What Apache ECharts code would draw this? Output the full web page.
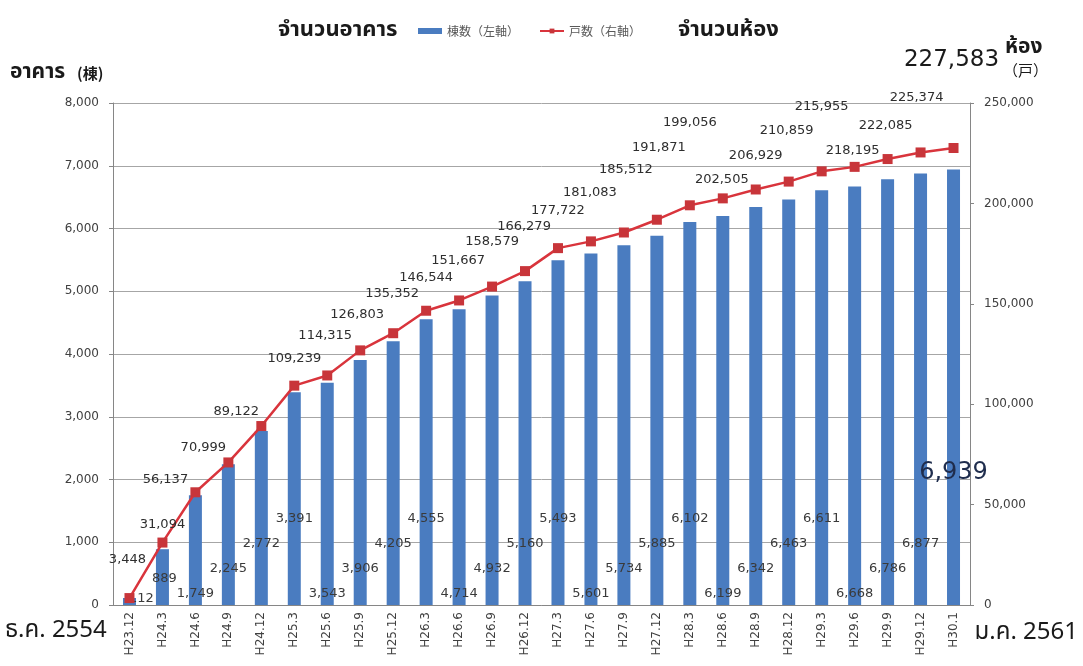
<!DOCTYPE html>
<html>
<head>
<meta charset="utf-8">
<title>จำนวนอาคาร / จำนวนห้อง</title>
<script src="https://cdn.jsdelivr.net/npm/echarts@6/dist/echarts.min.js"></script>
<style>
  html, body { margin: 0; padding: 0; background: #fff; }
  #chart { width: 1083px; height: 666px; }
</style>
</head>
<body>
<div id="chart"></div>
<script>
// periods (Heisei year.month)
const periods = ["H23.12", "H24.3", "H24.6", "H24.9", "H24.12", "H25.3", "H25.6", "H25.9", "H25.12",
  "H26.3", "H26.6", "H26.9", "H26.12", "H27.3", "H27.6", "H27.9", "H27.12", "H28.3", "H28.6",
  "H28.9", "H28.12", "H29.3", "H29.6", "H29.9", "H29.12", "H30.1"];
// 棟数 (left axis)
const buildings = [112, 889, 1749, 2245, 2772, 3391, 3543, 3906, 4205, 4555, 4714, 4932, 5160,
  5493, 5601, 5734, 5885, 6102, 6199, 6342, 6463, 6611, 6668, 6786, 6877, 6939];
// 戸数 (right axis)
const rooms = [3448, 31094, 56137, 70999, 89122, 109239, 114315, 126803, 135352, 146544, 151667,
  158579, 166279, 177722, 181083, 185512, 191871, 199056, 202505, 206929, 210859, 215955, 218195,
  222085, 225374, 227583];
const leftTicks = { min: 0, max: 8000, interval: 1000 };
const rightTicks = { min: 0, max: 250000, interval: 50000 };

// label placement (px), kept apart from the data
const roomLabelLift = [39, 18, 13, 15, 15, 28, 40, 36, 40, 34, 40, 45, 45, 38, 49, 63, 73, 83, 19, 34, 51, 65, 17, 34, 55, 86];
const roomLabelShift = [-2, 0, -30, -25, -25, 0, -2, -3, -1, 0, -1, 0, -1, 0, -1, 2, 2, 0, -1, 0, -2, 0, -2, -2, -4, -2];

const fmt = v => Number(v).toLocaleString("en-US");
const thai = 'Tahoma, "Noto Sans Thai", "Leelawadee UI", sans-serif';
const last = periods.length - 1;

function barLabel(i) {
  if (i === 0) return { offset: [12, 0] };
  if (i === 1) return { offset: [2, -20] };
  if (i === last) return { offset: [0, -120], fontSize: 24, color: "#1f2d4d" };
  return { offset: [0, [-5, -30, -55, -80][(i + 2) % 4]] };
}

function roomLabel(i) {
  const lift = roomLabelLift[i];
  if (i === last) return { offset: [roomLabelShift[i], -(lift - 15)], fontSize: 23, color: "#1a1a1a" };
  return { offset: [roomLabelShift[i], -(lift - 12)] };
}

const chart = echarts.init(document.getElementById("chart"));
chart.setOption({
  animation: false,
  textStyle: { fontFamily: '"DejaVu Sans", Verdana, sans-serif' },
  legend: {
    left: 413,
    top: 20,
    itemGap: 20,
    itemWidth: 24,
    itemHeight: 6,
    textStyle: { fontSize: 12, color: "#595959", fontFamily: '"Noto Sans CJK JP", sans-serif' },
    data: [
      { name: "棟数（左軸）", icon: "rect" },
      { name: "戸数（右軸）", itemStyle: { borderWidth: 0 } }
    ]
  },
  grid: { left: 113, right: 113, top: 103, bottom: 61 },
  xAxis: {
    type: "category",
    data: periods,
    axisLine: { lineStyle: { color: "#868686" } },
    axisTick: { show: false },
    axisLabel: { rotate: 90, fontSize: 12, color: "#404040", margin: 7 }
  },
  yAxis: [
    {
      type: "value",
      min: leftTicks.min, max: leftTicks.max, interval: leftTicks.interval,
      axisLine: { show: true, lineStyle: { color: "#868686" } },
      axisTick: { show: true, length: 4, lineStyle: { color: "#868686" } },
      axisLabel: { fontSize: 12, color: "#404040", margin: 14, formatter: fmt },
      splitLine: { lineStyle: { color: "#a6a6a6" } }
    },
    {
      type: "value",
      min: rightTicks.min, max: rightTicks.max, interval: rightTicks.interval,
      axisLine: { show: true, lineStyle: { color: "#868686" } },
      axisTick: { show: true, length: 4, lineStyle: { color: "#868686" } },
      axisLabel: { fontSize: 12, color: "#404040", margin: 14, formatter: fmt },
      splitLine: { show: false }
    }
  ],
  series: [
    {
      name: "棟数（左軸）",
      type: "bar",
      yAxisIndex: 0,
      barWidth: 13,
      itemStyle: { color: "#4a7cc0" },
      data: buildings.map((v, i) => ({
        value: v,
        label: barLabel(i)
      })),
      label: {
        show: true,
        position: "insideBottom",
        distance: 0,
        fontSize: 13,
        color: "#3a3a3a",
        formatter: p => fmt(p.value)
      },
      z: 2
    },
    {
      name: "戸数（右軸）",
      type: "line",
      yAxisIndex: 1,
      symbol: "rect",
      symbolSize: 10,
      lineStyle: { color: "#d9343c", width: 2.5 },
      itemStyle: { color: "#c8353a" },
      data: rooms.map((v, i) => ({
        value: v,
        label: roomLabel(i)
      })),
      label: {
        show: true,
        position: "top",
        distance: 0,
        fontSize: 13,
        color: "#2e2e2e",
        formatter: p => fmt(p.value)
      },
      z: 3
    }
  ],
  graphic: [
    { type: "text", left: 278, top: 21, style: { text: "จำนวนอาคาร", font: 'bold 22px ' + thai, fill: "#1a1a1a" } },
    { type: "text", left: 678, top: 21, style: { text: "จำนวนห้อง", font: 'bold 22px ' + thai, fill: "#1a1a1a" } },
    { type: "text", left: 10, top: 63, style: { text: "อาคาร", font: 'bold 21px ' + thai, fill: "#1a1a1a" } },
    { type: "text", left: 77, top: 66, style: { text: "(棟)", font: 'bold 15px "Noto Sans CJK JP", sans-serif', fill: "#1a1a1a" } },
    { type: "text", left: 1005, top: 38, style: { text: "ห้อง", font: 'bold 21px ' + thai, fill: "#1a1a1a" } },
    { type: "text", left: 1003, top: 63, style: { text: "（戸）", font: '15px "Noto Sans CJK JP", sans-serif', fill: "#1a1a1a" } },
    { type: "text", left: 5, top: 620, style: { text: "ธ.ค. 2554", font: '24px ' + thai, fill: "#1a1a1a" } },
    { type: "text", right: 5, top: 622, style: { text: "ม.ค. 2561", font: '24px ' + thai, fill: "#1a1a1a" } }
  ]
});
</script>
</body>
</html>
